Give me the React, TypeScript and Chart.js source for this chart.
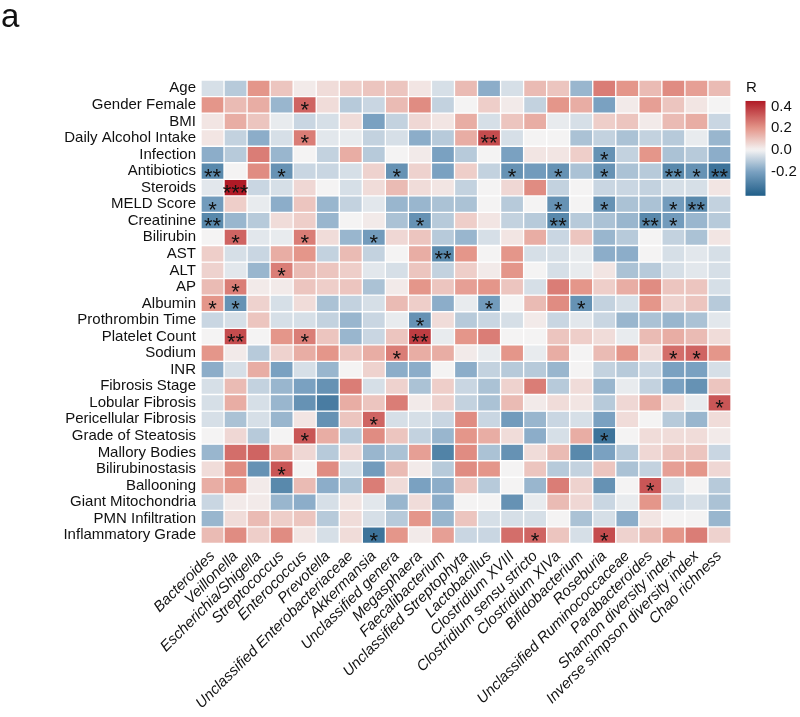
import React, { useEffect, useRef } from "react";
import { Chart, registerables } from "chart.js";

Chart.register(...registerables);

const rowLabels: string[] = [
  "Age", "Gender Female", "BMI", "Daily Alcohol Intake", "Infection", "Antibiotics",
  "Steroids", "MELD Score", "Creatinine", "Bilirubin", "AST", "ALT", "AP", "Albumin",
  "Prothrombin Time", "Platelet Count", "Sodium", "INR", "Fibrosis Stage",
  "Lobular Fibrosis", "Pericellular Fibrosis", "Grade of Steatosis", "Mallory Bodies",
  "Bilirubinostasis", "Ballooning", "Giant Mitochondria", "PMN Infiltration",
  "Inflammatory Grade",
];

const colLabels: string[] = [
  "Bacteroides", "Veillonella", "Escherichia/Shigella", "Streptococcus", "Enterococcus",
  "Prevotella", "Unclassified Enterobacteriaceae", "Akkermansia", "Unclassified genera",
  "Megasphaera", "Faecalibacterium", "Unclassified Streptophyta", "Lactobacillus",
  "Clostridium XVIII", "Clostridium sensu stricto", "Clostridium XIVa", "Bifidobacterium",
  "Roseburia", "Unclassified Ruminococcaceae", "Parabacteroides", "Shannon diversity index",
  "Inverse simpson diversity index", "Chao richness",
];

// correlation R, one row per clinical variable, one column per taxon/index
const rAge = [-0.05, -0.1, 0.2, 0.1, 0.02, 0.05, 0.08, 0.1, 0.1, 0.03, -0.05, 0.12, -0.17, -0.05, 0.12, 0.1, -0.15, 0.25, 0.2, 0.12, 0.22, 0.18, 0.12];
const rGender = [0.2, 0.12, 0.15, -0.15, 0.3, 0.05, -0.1, -0.07, 0.12, 0.22, -0.08, 0.0, 0.08, 0.02, -0.08, 0.2, 0.15, -0.2, 0.02, 0.18, 0.1, 0.03, 0.0];
const rBMI = [0.03, 0.15, 0.1, -0.02, -0.07, -0.05, 0.05, -0.2, -0.08, 0.06, 0.03, 0.15, -0.05, 0.1, 0.15, -0.02, -0.05, 0.08, 0.1, 0.02, 0.12, 0.15, -0.07];
const rAlcohol = [0.03, -0.08, -0.17, -0.05, 0.25, -0.03, -0.02, -0.08, -0.05, -0.17, -0.1, 0.15, 0.35, -0.05, 0.0, 0.0, -0.12, -0.08, -0.12, -0.08, -0.1, -0.02, -0.15];
const rInfection = [-0.17, -0.1, 0.25, -0.15, 0.0, -0.08, 0.15, -0.1, 0.0, 0.02, -0.2, -0.1, 0.0, -0.2, 0.03, 0.03, 0.08, -0.25, -0.08, 0.2, -0.12, -0.1, -0.17];
const rAntibiotics = [-0.28, 0.0, 0.22, -0.25, -0.07, -0.07, -0.05, 0.07, -0.25, 0.07, -0.2, 0.08, -0.08, -0.25, -0.22, -0.25, -0.12, -0.25, -0.12, -0.1, -0.28, -0.25, -0.35];
const rSteroids = [-0.03, 0.45, -0.07, -0.05, 0.06, 0.0, -0.05, 0.05, 0.12, 0.05, 0.03, -0.08, 0.0, 0.06, 0.22, -0.08, 0.0, -0.07, -0.07, -0.08, -0.05, -0.05, 0.03];
const rMELD = [-0.22, 0.08, -0.02, -0.17, 0.1, -0.15, -0.08, -0.03, -0.15, -0.15, -0.12, -0.12, 0.0, -0.1, 0.0, -0.25, 0.0, -0.25, -0.12, -0.12, -0.22, -0.28, -0.08];
const rCreatinine = [-0.28, -0.15, -0.1, 0.05, 0.08, -0.15, 0.0, 0.02, -0.12, -0.25, -0.1, 0.08, 0.03, -0.08, -0.1, -0.28, -0.1, -0.12, -0.15, -0.28, -0.22, -0.15, -0.1];
const rBilirubin = [0.0, 0.3, -0.03, -0.02, 0.25, 0.05, -0.15, -0.22, 0.06, 0.1, -0.1, -0.15, -0.05, 0.03, 0.15, -0.07, 0.1, -0.15, -0.1, 0.0, -0.08, -0.12, 0.03];
const rAST = [0.08, -0.05, -0.07, 0.15, 0.2, -0.08, 0.12, -0.08, 0.0, 0.15, -0.28, 0.2, 0.0, 0.2, -0.05, -0.05, -0.02, -0.17, -0.17, 0.0, -0.05, -0.03, -0.05];
const rALT = [0.07, -0.03, -0.15, 0.25, 0.12, 0.1, 0.08, -0.03, -0.05, 0.1, -0.08, 0.08, 0.02, 0.2, 0.0, -0.05, -0.02, 0.03, -0.12, -0.1, -0.05, -0.03, -0.05];
const rAP = [0.12, 0.25, 0.02, 0.02, 0.1, 0.08, 0.1, -0.12, 0.02, 0.2, 0.1, 0.18, 0.2, 0.1, -0.05, 0.25, 0.2, 0.08, 0.15, 0.22, 0.1, 0.1, -0.05];
const rAlbumin = [0.2, -0.25, 0.07, -0.05, 0.05, -0.12, -0.08, -0.05, 0.12, 0.08, -0.17, -0.02, -0.22, 0.0, 0.12, 0.22, -0.25, -0.08, -0.05, 0.2, 0.07, 0.1, -0.1];
const rProthrombin = [-0.07, -0.05, 0.1, -0.05, -0.05, -0.08, -0.15, -0.07, -0.02, -0.25, 0.05, -0.1, -0.07, -0.05, 0.02, -0.07, -0.03, -0.07, -0.15, -0.12, -0.15, -0.12, -0.03];
const rPlatelet = [0.0, 0.35, 0.0, 0.2, 0.25, 0.1, -0.15, -0.07, 0.1, 0.38, -0.02, 0.2, 0.25, 0.0, 0.0, 0.1, 0.08, 0.05, -0.02, 0.12, 0.15, 0.12, 0.05];
const rSodium = [0.2, 0.02, -0.1, 0.07, 0.15, 0.2, 0.1, 0.15, 0.25, 0.15, 0.15, 0.02, -0.02, 0.2, -0.02, 0.15, 0.0, 0.12, 0.2, 0.05, 0.28, 0.3, 0.2];
const rINR = [-0.17, -0.05, 0.15, -0.2, -0.05, -0.15, 0.0, 0.07, -0.17, -0.17, 0.0, -0.17, -0.08, -0.1, -0.1, -0.15, 0.0, -0.08, -0.1, -0.07, -0.2, -0.2, -0.05];
const rFibrosis = [-0.05, 0.12, -0.08, -0.15, -0.2, -0.25, 0.25, -0.05, 0.07, -0.12, 0.08, -0.07, -0.12, 0.07, 0.25, -0.1, 0.05, -0.15, -0.02, -0.08, -0.2, -0.25, 0.1];
const rLobular = [-0.05, 0.15, -0.05, -0.15, -0.25, -0.32, 0.15, 0.1, 0.25, 0.02, 0.07, -0.08, -0.12, 0.12, 0.02, 0.05, 0.03, -0.1, 0.06, 0.15, 0.05, -0.02, 0.33];
const rPericellular = [-0.05, -0.12, -0.05, -0.15, 0.03, -0.25, 0.1, 0.3, -0.05, -0.05, -0.07, 0.22, -0.07, -0.22, -0.15, -0.07, -0.05, -0.2, 0.05, 0.0, -0.1, -0.15, 0.05];
const rSteatosis = [0.0, 0.06, -0.1, 0.0, 0.33, 0.15, -0.1, 0.22, 0.1, -0.08, -0.15, 0.2, 0.15, 0.05, -0.17, -0.05, 0.15, -0.35, 0.0, 0.05, 0.05, 0.05, 0.02];
const rMallory = [-0.15, 0.28, 0.3, 0.15, 0.06, -0.1, 0.06, -0.15, -0.12, 0.18, -0.3, 0.22, -0.12, -0.25, 0.05, 0.12, -0.28, -0.2, -0.1, 0.06, 0.1, 0.1, -0.07];
const rBilirubinostasis = [0.05, 0.22, -0.25, 0.33, 0.0, 0.22, -0.05, -0.22, 0.12, 0.02, -0.1, 0.22, 0.2, 0.0, 0.1, -0.1, -0.08, 0.1, -0.12, -0.08, 0.18, 0.2, 0.06];
const rBallooning = [0.15, 0.2, 0.02, -0.28, 0.12, -0.17, -0.12, 0.25, 0.05, -0.2, -0.17, 0.1, -0.1, 0.0, -0.15, 0.25, 0.07, -0.25, 0.0, 0.33, -0.05, 0.0, -0.1];
const rGiant = [-0.07, 0.02, 0.02, -0.15, -0.17, -0.05, 0.03, -0.03, -0.15, 0.05, -0.17, 0.0, 0.0, -0.25, -0.02, 0.12, 0.06, -0.07, -0.02, 0.2, -0.07, -0.05, -0.12];
const rPMN = [-0.15, 0.05, 0.12, 0.08, 0.1, -0.1, 0.05, -0.05, -0.1, 0.2, -0.15, 0.1, -0.05, -0.05, -0.05, 0.0, -0.12, -0.05, -0.17, 0.03, 0.0, 0.0, -0.15];
const rInflammatory = [0.12, 0.22, 0.08, 0.22, 0.03, -0.05, 0.05, -0.35, 0.2, 0.02, 0.18, -0.07, -0.07, 0.28, 0.3, 0.1, -0.05, 0.35, 0.07, 0.12, 0.2, 0.25, 0.07];

const rValues: number[][] = [
  rAge, rGender, rBMI, rAlcohol, rInfection, rAntibiotics, rSteroids, rMELD, rCreatinine,
  rBilirubin, rAST, rALT, rAP, rAlbumin, rProthrombin, rPlatelet, rSodium, rINR, rFibrosis,
  rLobular, rPericellular, rSteatosis, rMallory, rBilirubinostasis, rBallooning, rGiant, rPMN,
  rInflammatory,
];

// significance marks: [row index, column index, mark]
const marks: [number, number, string][] = [
  [1, 4, "*"], [3, 4, "*"], [3, 12, "**"], [4, 17, "*"],
  [5, 0, "**"], [5, 3, "*"], [5, 8, "*"], [5, 13, "*"], [5, 15, "*"], [5, 17, "*"], [5, 20, "**"], [5, 21, "*"], [5, 22, "**"],
  [6, 1, "***"],
  [7, 0, "*"], [7, 15, "*"], [7, 17, "*"], [7, 20, "*"], [7, 21, "**"],
  [8, 0, "**"], [8, 9, "*"], [8, 15, "**"], [8, 19, "**"], [8, 20, "*"],
  [9, 1, "*"], [9, 4, "*"], [9, 7, "*"],
  [10, 10, "**"], [11, 3, "*"], [12, 1, "*"],
  [13, 0, "*"], [13, 1, "*"], [13, 12, "*"], [13, 16, "*"],
  [14, 9, "*"], [15, 1, "**"], [15, 4, "*"], [15, 9, "**"],
  [16, 8, "*"], [16, 20, "*"], [16, 21, "*"],
  [19, 22, "*"], [20, 7, "*"], [21, 4, "*"], [21, 17, "*"], [23, 3, "*"], [24, 19, "*"],
  [27, 7, "*"], [27, 14, "*"], [27, 17, "*"],
];

const legendTicks: number[] = [0.4, 0.2, 0.0, -0.2];
const legendMin = -0.42;
const legendMax = 0.45;

const FONT = '"Liberation Sans", Arial, sans-serif';

const stops: [number, number[]][] = [
  [-0.42, [32, 94, 136]],
  [-0.2, [122, 161, 193]],
  [0, [244, 243, 243]],
  [0.2, [228, 150, 138]],
  [0.45, [176, 26, 38]],
];

function colorFor(v: number): string {
  if (v <= stops[0][0]) return `rgb(${stops[0][1].join(",")})`;
  for (let i = 1; i < stops.length; i++) {
    if (v <= stops[i][0]) {
      const [a, ca] = stops[i - 1];
      const [b, cb] = stops[i];
      const t = (v - a) / (b - a);
      const c = ca.map((x, k) => Math.round(x + (cb[k] - x) * t));
      return `rgb(${c.join(",")})`;
    }
  }
  return `rgb(${stops[stops.length - 1][1].join(",")})`;
}

const marksPlugin = {
  id: "marks",
  afterDatasetsDraw(chart: any) {
    const { ctx, scales } = chart;
    const xs = scales.x;
    const ys = scales.y;
    ctx.save();
    ctx.font = `22px ${FONT}`;
    ctx.fillStyle = "#111";
    ctx.textAlign = "center";
    ctx.textBaseline = "alphabetic";
    for (const [r, c, m] of marks) {
      const x = xs.getPixelForValue(c);
      const y = ys.getPixelForValue(r + 0.5);
      ctx.fillText(m, x, y + 12.5);
    }
    ctx.restore();
  },
};

const decorPlugin = {
  id: "decor",
  afterDraw(chart: any) {
    const { ctx } = chart;
    ctx.save();
    ctx.fillStyle = "#111";
    ctx.font = `33px ${FONT}`;
    ctx.textAlign = "left";
    ctx.textBaseline = "alphabetic";
    ctx.fillText("a", 1, 27);

    // colour bar
    const zeroY = 150, pxPerUnit = 109;
    const yTop = zeroY - legendMax * pxPerUnit;
    const yBot = zeroY - legendMin * pxPerUnit;
    const x0 = 745.5, w = 20;
    const grad = ctx.createLinearGradient(0, yTop, 0, yBot);
    for (let i = 0; i <= 40; i++) {
      const v = legendMax + (legendMin - legendMax) * (i / 40);
      grad.addColorStop(i / 40, colorFor(v));
    }
    ctx.fillStyle = grad;
    ctx.fillRect(x0, yTop, w, yBot - yTop);

    ctx.fillStyle = "#111";
    ctx.font = `15px ${FONT}`;
    ctx.textBaseline = "alphabetic";
    ctx.fillText("R", 746, 92);
    ctx.textBaseline = "middle";
    for (const t of legendTicks) {
      ctx.fillText(t.toFixed(1), 771, zeroY - t * pxPerUnit);
    }
    ctx.restore();
  },
};

export default function App() {
  const ref = useRef<HTMLCanvasElement | null>(null);
  useEffect(() => {
    if (!ref.current) return;
    const chart = new Chart(ref.current, {
      type: "bar",
      data: {
        labels: colLabels,
        datasets: rowLabels.map((name, i) => ({
          label: name,
          data: colLabels.map(() => 1),
          backgroundColor: rValues[i].map(colorFor),
          borderColor: "#ffffff",
          borderWidth: 1,
          borderSkipped: false,
          barPercentage: 1,
          categoryPercentage: 1,
        })),
      },
      options: {
        responsive: false,
        animation: false,
        layout: { padding: { left: 0, top: 80, right: 69, bottom: 0 } },
        plugins: { legend: { display: false }, tooltip: { enabled: false } },
        scales: {
          x: {
            stacked: true,
            grid: { display: false, drawTicks: false },
            border: { display: false },
            ticks: {
              autoSkip: false,
              minRotation: 45,
              maxRotation: 45,
              padding: 4,
              color: "#111",
              font: { family: FONT, size: 15, style: "italic" },
            },
            afterFit: (s: any) => {
              s.height = 173.5;
            },
          },
          y: {
            stacked: true,
            reverse: true,
            min: 0,
            max: rowLabels.length,
            grid: { display: false, drawTicks: false },
            border: { display: false },
            afterBuildTicks: (s: any) => {
              s.ticks = rowLabels.map((_, i) => ({ value: i + 0.5 }));
            },
            ticks: {
              autoSkip: false,
              padding: 5,
              color: "#111",
              font: { family: FONT, size: 15 },
              callback: (v: any) => rowLabels[Math.floor(Number(v))],
            },
            afterFit: (s: any) => {
              s.width = 201;
            },
          },
        },
      },
      plugins: [marksPlugin, decorPlugin],
    });
    return () => chart.destroy();
  }, []);
  return (
    <div style={{ position: "fixed", left: 0, top: 0, width: 800, height: 717, background: "#fff" }}>
      <canvas ref={ref} width={800} height={717} style={{ display: "block" }} />
    </div>
  );
}
